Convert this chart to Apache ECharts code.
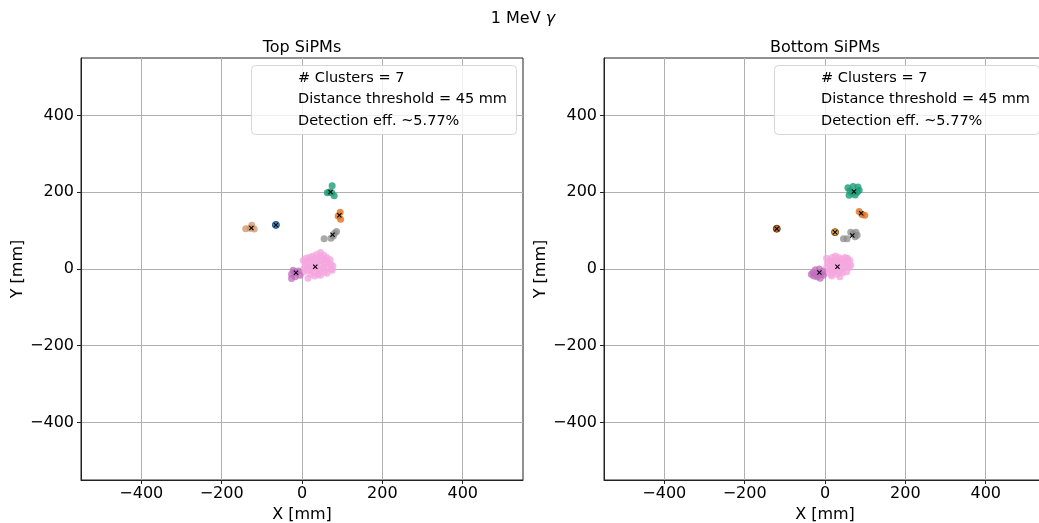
<!DOCTYPE html>
<html><head><meta charset="utf-8">
<script src="https://cdn.jsdelivr.net/npm/echarts@6/dist/echarts.min.js"></script>
<style>html,body{margin:0;padding:0;background:#fff}#c{width:1039px;height:523px}</style>
</head><body><div id="c"></div>
<script>
const xTicks = [-400, -200, 0, 200, 400];
const yTicks = [-400, -200, 0, 200, 400];
const superTitle = '1 MeV ';
const panelTitles = ['Top SiPMs', 'Bottom SiPMs'];
const legendLines = ['# Clusters = 7', 'Distance threshold = 45 mm', 'Detection eff. ~5.77%'];

// ---- Top SiPMs clusters ----
const topPink = [[3,22],[8,12],[5,2],[4,-8],[10,28],[12,18],[14,6],[13,-4],[15,-24],[18,30],[20,20],[22,10],[20,-2],[22,-14],[26,33],[28,24],[30,14],[28,4],[30,-8],[32,-18],[36,38],[38,28],[38,18],[36,6],[40,-4],[40,-14],[46,43],[46,32],[48,22],[46,12],[48,0],[46,-16],[54,36],[56,26],[56,14],[54,4],[56,-8],[62,30],[64,18],[64,6],[62,-11],[70,24],[72,12],[72,0],[77,8],[75,-3]];
const topPurple = [[-22,-3],[-17,-20],[-26,-14],[-9,-5],[-5,-16],[-26,-25],[-14,-10],[-20,-8]];
const topGreen = [[75,217],[63,199],[68,201],[74,199],[80,191]];
const topOrange = [[95,148],[90,138],[96,130]];
const topGray = [[55,79],[72,80],[78,86],[81,93],[86,98]];
const topTan = [[-140,105],[-125,114],[-119,104],[-129,106]];
const topBlue = [[-65,115]];
const topCentroids = [[33,6],[-15,-10],[71,201],[93,140],[76,89],[-126,107],[-65,115]];

// ---- Bottom SiPMs clusters ----
const botPink = [[4,28],[6,16],[4,4],[6,-8],[12,22],[14,10],[12,-2],[14,-14],[18,30],[20,18],[22,6],[20,-8],[17,-18],[26,34],[28,22],[28,10],[28,-4],[30,-14],[34,30],[36,18],[36,6],[36,-8],[37,-20],[42,26],[44,14],[44,2],[44,-10],[50,30],[52,20],[52,8],[54,-7],[56,28],[58,16],[60,4],[64,10],[62,22]];
const botPurple = [[-30,-10],[-24,-2],[-14,0],[-6,-6],[-4,-16],[-20,-20],[-12,-24],[-28,-18],[-18,-12],[-10,-14],[-34,-14]];
const botGreen = [[57,212],[70,215],[82,214],[62,203],[85,205],[60,192],[75,193],[68,198],[80,200]];
const botOrange = [[85,150],[99,140],[92,142]];
const botGray = [[46,79],[55,79],[64,96],[77,96],[80,88],[75,84],[70,92]];
const botBrown = [[-120,105]];
const botYellow = [[25,96]];
const botCentroids = [[31,6],[-14,-9],[72,202],[90,145],[68,87],[-120,105],[25,96]];

const FONT = 'DejaVu Sans';
const XMARK = 'path://M0,1.5L1.5,0L5,3.5L8.5,0L10,1.5L6.5,5L10,8.5L8.5,10L5,6.5L1.5,10L0,8.5L3.5,5Z';
const fmt = v => (v < 0 ? '\u2212' + Math.abs(v) : String(v));

function pts(data, gi, color, opacity, border) {
  return {
    type: 'scatter', xAxisIndex: gi, yAxisIndex: gi, data: data,
    symbolSize: 7, silent: true,
    itemStyle: { color: color, opacity: opacity, borderColor: border || 'transparent', borderWidth: border ? 1 : 0 }
  };
}
function cents(data, gi) {
  return {
    type: 'scatter', xAxisIndex: gi, yAxisIndex: gi, data: data, z: 5,
    symbol: XMARK, symbolSize: 5, silent: true,
    itemStyle: { color: '#000', opacity: 1 }
  };
}

const gridLefts = [81, 604];
const grids = gridLefts.map(l => ({
  left: l, top: 58, width: 442, height: 422, show: true,
  borderColor: '#222', borderWidth: 1, backgroundColor: 'transparent',
  containLabel: false, outerBoundsMode: 'none'
}));

const xAxes = [0, 1].map(i => ({
  type: 'value', gridIndex: i, min: -550, max: 550,
  axisLine: { show: true, onZero: false, lineStyle: { color: '#222', width: 1 } },
  axisTick: { show: true, customValues: xTicks, length: 4, lineStyle: { color: '#222' } },
  axisLabel: { customValues: xTicks, formatter: fmt, fontSize: 16, fontFamily: FONT, color: '#000', margin: 6 },
  splitLine: { show: true, lineStyle: { color: '#b0b0b0', width: 1 } },
  name: 'X [mm]', nameLocation: 'middle', nameGap: 24,
  nameTextStyle: { fontSize: 16, fontFamily: FONT, color: '#000' }
}));
const yAxes = [0, 1].map(i => ({
  type: 'value', gridIndex: i, min: -550, max: 550,
  axisLine: { show: true, onZero: false, lineStyle: { color: '#222', width: 1 } },
  axisTick: { show: true, customValues: yTicks, length: 4, lineStyle: { color: '#222' } },
  axisLabel: { customValues: yTicks, formatter: fmt, fontSize: 16, fontFamily: FONT, color: '#000', margin: 7 },
  splitLine: { show: true, lineStyle: { color: '#b0b0b0', width: 1 } },
  name: 'Y [mm]', nameLocation: 'middle', nameGap: 55, nameRotate: 90,
  nameTextStyle: { fontSize: 16, fontFamily: FONT, color: '#000' }
}));

const series = [
  pts(topPink, 0, '#f5a6df', 0.8),
  pts(topPurple, 0, '#c06cbc', 0.75),
  pts(topGreen, 0, '#1b9e77', 0.8),
  pts(topOrange, 0, '#e07020', 0.8),
  pts(topGray, 0, '#8c8c8c', 0.75),
  pts(topTan, 0, '#d09266', 0.75),
  pts(topBlue, 0, '#3d8bc6', 1, '#24587f'),
  cents(topCentroids, 0),
  pts(botPink, 1, '#f5a6df', 0.8),
  pts(botPurple, 1, '#c06cbc', 0.75),
  pts(botGreen, 1, '#1b9e77', 0.8),
  pts(botOrange, 1, '#e07020', 0.8),
  pts(botGray, 1, '#8c8c8c', 0.75),
  pts(botBrown, 1, '#c8702e', 1, '#6b3a14'),
  pts(botYellow, 1, '#eaa33c', 1, '#7a5418'),
  cents(botCentroids, 1)
];

const graphics = [];
graphics.push({
  type: 'text', x: 523, y: 19, z: 10,
  style: {
    text: superTitle + '{g|\u03b3}', font: '16px "DejaVu Sans"', fill: '#000',
    textAlign: 'center', textVerticalAlign: 'middle',
    rich: { g: { fontStyle: 'italic', fontSize: 16, fontFamily: FONT, fill: '#000' } }
  }
});
[302, 825].forEach((cx, i) => {
  graphics.push({
    type: 'text', x: cx, y: 48, z: 10,
    style: { text: panelTitles[i], font: '16px "DejaVu Sans"', fill: '#000', textAlign: 'center', textVerticalAlign: 'middle' }
  });
  const bx = 251 + i * 523;
  graphics.push({
    type: 'rect', z: 20, shape: { x: bx + 0.5, y: 65.5, width: 265, height: 69, r: 4 },
    style: { fill: 'rgba(255,255,255,0.8)', stroke: '#d6d6d6', lineWidth: 1 }
  });
  legendLines.forEach((t, k) => {
    graphics.push({
      type: 'text', z: 21, x: bx + 47, y: 78 + k * 21.7,
      style: { text: t, font: '14.5px "DejaVu Sans"', fill: '#000', textAlign: 'left', textVerticalAlign: 'middle' }
    });
  });
});

const chart = echarts.init(document.getElementById('c'), null, { renderer: 'canvas' });
chart.setOption({
  animation: false,
  backgroundColor: '#fff',
  grid: grids,
  xAxis: xAxes,
  yAxis: yAxes,
  series: series,
  graphic: graphics
});
</script></body></html>
